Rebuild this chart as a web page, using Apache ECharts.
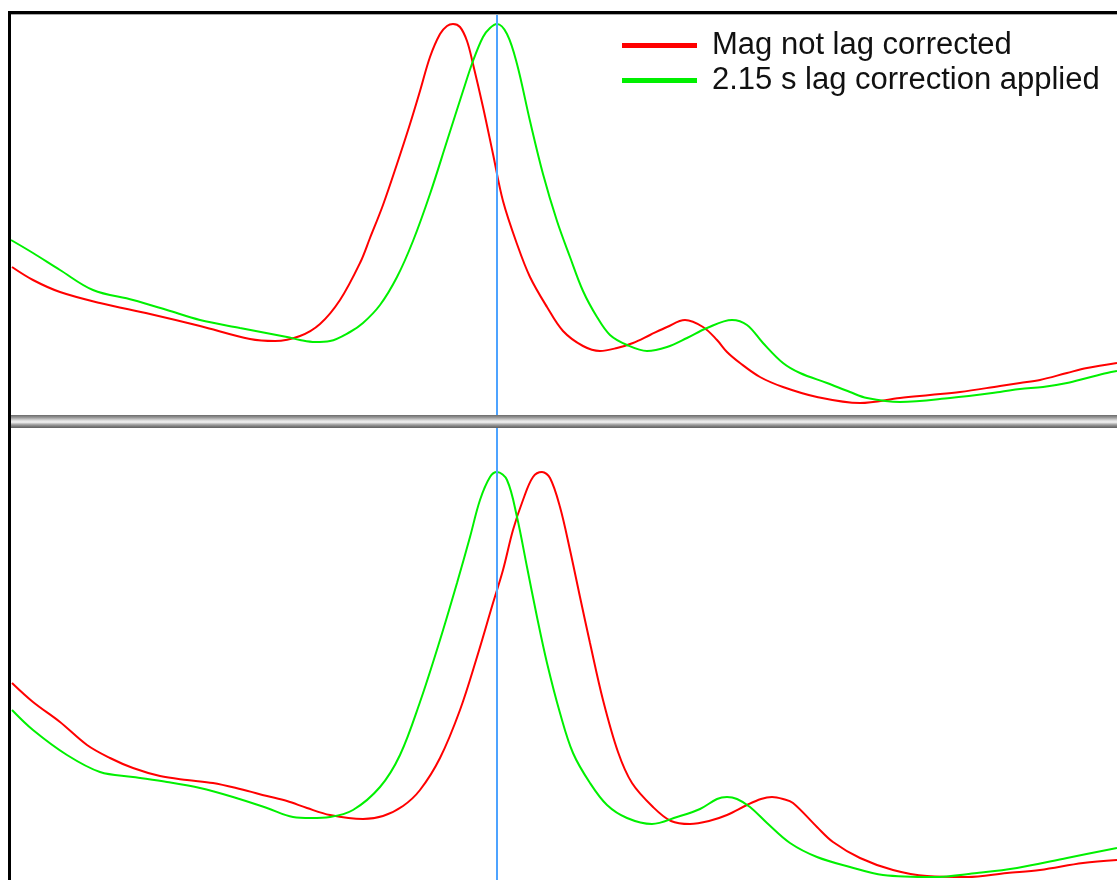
<!DOCTYPE html>
<html>
<head>
<meta charset="utf-8">
<style>
  html, body { margin: 0; padding: 0; background: #ffffff; }
  #chart { width: 1117px; height: 880px; }
</style>
<script src="https://cdn.jsdelivr.net/npm/echarts@6/dist/echarts.min.js"></script>
</head>
<body>
<div id="chart"></div>
<script>
// Series names
const nameRaw = 'Mag not lag corrected';
const nameCorr = '2.15 s lag correction applied';

// Time of the reference marker (same units as x values)
const markerTime = 486;

// Upper panel: [time, signal]
const topRaw = [
  [1,148],[22,135],[49,123],[89,112],[139,101],[189,89],[239,76],[264,74],[289,79],[309,91],
  [329,115],[349,152],[359,177],[372,210],[386,251],[399,291],[409,324],
  [419,358],[429,381],[436,389],[442,391],[449,388],[456,374],[462,351],[472,308],[482,261],
  [492,214],[506,171],[519,138],[536,108],[552,84],[572,69],[589,64],[606,67],[622,72],
  [639,80],[656,88],[674,95],[692,88],[706,75],[716,63],[729,52],[749,38],[772,28],
  [806,18],[849,12],[889,17],[919,20],[949,23],[989,29],[1009,32],[1029,35],
  [1056,42],[1076,47],[1106,52]
];
const topCorr = [
  [0,175],[22,162],[49,145],[82,125],[122,115],[156,105],[189,95],[229,87],[276,78],[289,75],
  [304,73],[319,74],[339,83],[352,92],[369,110],[386,138],[402,174],[419,221],[436,274],[452,324],
  [462,354],[472,378],[479,387],[486,391],[496,381],[506,351],[519,294],[532,241],[546,194],
  [559,158],[572,124],[586,98],[599,80],[616,70],[636,64],[656,68],[676,77],[696,87],
  [721,95],[736,90],[752,72],[772,52],[789,42],[816,32],[839,23],[856,17],[889,13],
  [939,17],[989,23],[1009,26],[1032,28],[1056,32],[1076,37],[1096,42],[1106,44]
];

// Lower panel: [time, signal]
const botRaw = [
  [1,197],[22,178],[49,158],[76,135],[99,122],[122,112],[149,104],[176,100],[202,97],[229,91],
  [256,84],[276,79],[296,72],[319,65],[352,61],[372,64],[392,74],[409,90],[429,122],
  [449,170],[466,223],[482,277],[492,310],[502,350],[512,380],[522,403],[531,408],[539,402],
  [549,373],[559,330],[569,283],[579,237],[592,180],[607,128],[621,97],[642,73],[660,59],
  [679,56],[698,59],[716,65],[736,75],[750,81],[761,83],[772,81],[782,77],[806,53],[822,38],
  [849,22],[882,10],[916,4],[956,3],[996,7],[1029,10],[1072,17],[1106,20]
];
const botCorr = [
  [1,170],[22,150],[56,125],[89,108],[122,103],[156,98],[189,92],[222,83],[256,72],[282,63],
  [300,62],[319,63],[342,70],[369,93],[389,125],[409,178],[429,240],[446,297],[459,343],[469,380],
  [479,403],[486,408],[496,400],[506,363],[516,313],[526,263],[536,217],[549,167],[562,127],
  [579,97],[596,75],[616,62],[641,56],[666,63],[689,71],[706,81],[716,83],[726,81],[739,73],
  [756,57],[779,37],[806,23],[839,13],[872,5],[922,3],[966,7],[1006,12],[1056,22],[1106,32]
];

const colRaw = '#ff0000';
const colCorr = '#00f000';
const colMarker = '#4da3ff';

const chart = echarts.init(document.getElementById('chart'), null, { renderer: 'canvas' });

function lineSeries(name, data, color, idx, withMarker) {
  const s = {
    name: name,
    type: 'line',
    xAxisIndex: idx,
    yAxisIndex: idx,
    data: data,
    smooth: 0.35,
    showSymbol: false,
    symbol: 'none',
    color: color,
    lineStyle: { color: color, width: 2 },
    animation: false,
    z: 3
  };
  if (withMarker) {
    s.markLine = {
      silent: true,
      symbol: ['none', 'none'],
      label: { show: false },
      lineStyle: { color: colMarker, width: 2, type: 'solid' },
      data: [{ xAxis: markerTime }],
      animation: false
    };
  }
  return s;
}

const option = {
  backgroundColor: '#ffffff',
  animation: false,
  grid: [
    { left: 11, right: 0, top: 14, height: 401 },
    { left: 11, right: 0, top: 428, bottom: 0 }
  ],
  xAxis: [
    { type: 'value', gridIndex: 0, min: 0, max: 1106, show: false },
    { type: 'value', gridIndex: 1, min: 0, max: 1106, show: false }
  ],
  yAxis: [
    { type: 'value', gridIndex: 0, min: 0, max: 401, show: false },
    { type: 'value', gridIndex: 1, min: 0, max: 452, show: false }
  ],
  legend: {
    data: [nameRaw, nameCorr],
    orient: 'vertical',
    left: 622,
    top: 30,
    itemWidth: 75,
    itemHeight: 5,
    itemGap: 4,
    icon: 'rect',
    padding: 0,
    textStyle: {
      fontFamily: 'Liberation Sans, Arial, sans-serif',
      fontSize: 31,
      lineHeight: 31,
      color: '#111111',
      padding: [0, 0, 0, 10]
    }
  },
  series: [
    lineSeries(nameRaw, topRaw, colRaw, 0, false),
    lineSeries(nameCorr, topCorr, colCorr, 0, true),
    lineSeries(nameRaw, botRaw, colRaw, 1, false),
    lineSeries(nameCorr, botCorr, colCorr, 1, true)
  ],
  graphic: [
    // divider between panels
    {
      type: 'rect', z: 100, silent: true,
      shape: { x: 11, y: 415, width: 1106, height: 13 },
      style: {
        fill: new echarts.graphic.LinearGradient(0, 0, 0, 1, [
          { offset: 0, color: '#6a6a6a' },
          { offset: 0.2, color: '#9a9a9a' },
          { offset: 0.4, color: '#d8d8d8' },
          { offset: 0.55, color: '#f4f4f4' },
          { offset: 0.7, color: '#b0b0b0' },
          { offset: 0.85, color: '#808080' },
          { offset: 1, color: '#5e5e5e' }
        ])
      }
    },
    // frame top
    { type: 'rect', z: 100, silent: true, shape: { x: 8, y: 11, width: 1109, height: 3 }, style: { fill: '#000000' } },
    { type: 'rect', z: 100, silent: true, shape: { x: 11, y: 14, width: 1106, height: 1 }, style: { fill: '#a8a8a8' } },
    // frame left
    { type: 'rect', z: 100, silent: true, shape: { x: 8, y: 11, width: 3, height: 869 }, style: { fill: '#000000' } }
  ]
};

chart.setOption(option);
</script>
</body>
</html>
